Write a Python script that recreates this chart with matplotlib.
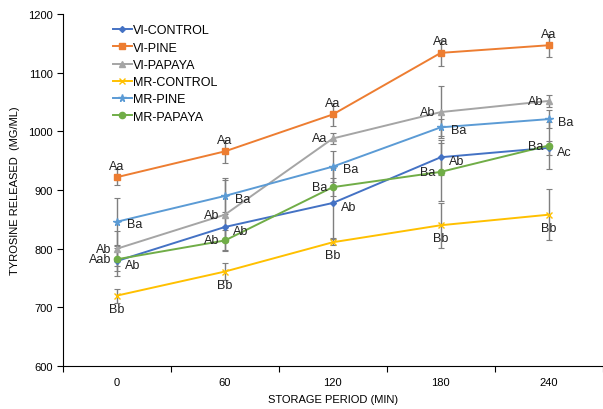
import matplotlib
matplotlib.use("Agg")
import matplotlib.pyplot as plt
import numpy as np

plt.rcParams['font.family'] = ['Liberation Sans', 'DejaVu Sans']

periods = ["0", "60", "120", "180", "240"]
series_names = ["VI-CONTROL", "VI-PINE", "VI-PAPAYA", "MR-CONTROL", "MR-PINE", "MR-PAPAYA"]

vi_control = [779, 837, 878, 956, 972]
vi_pine = [922, 966, 1029, 1134, 1147]
vi_papaya = [800, 858, 988, 1033, 1052]
mr_control = [720, 761, 811, 840, 858]
mr_pine = [846, 890, 940, 1007, 1021]
mr_papaya = [782, 814, 905, 931, 976]

vi_control_err = [25, 25, 60, 30, 12]
vi_pine_err = [14, 20, 20, 22, 20]
vi_papaya_err = [30, 60, 9, 45, 10]
mr_control_err = [12, 15, 5, 38, 43]
mr_pine_err = [40, 30, 27, 15, 15]
mr_papaya_err = [20, 18, 15, 50, 40]

vi_control_lbl = ["Ab", "Ab", "Ab", "Ab", "Ac"]
vi_pine_lbl = ["Aa", "Aa", "Aa", "Aa", "Aa"]
vi_papaya_lbl = ["Ab", "Ab", "Aa", "Ab", "Ab"]
mr_control_lbl = ["Bb", "Bb", "Bb", "Bb", "Bb"]
mr_pine_lbl = ["Ba", "Ba", "Ba", "Ba", "Ba"]
mr_papaya_lbl = ["Aab", "Ab", "Ba", "Ba", "Ba"]

values = [vi_control, vi_pine, vi_papaya, mr_control, mr_pine, mr_papaya]
errors = [vi_control_err, vi_pine_err, vi_papaya_err, mr_control_err, mr_pine_err, mr_papaya_err]
labels = [vi_control_lbl, vi_pine_lbl, vi_papaya_lbl, mr_control_lbl, mr_pine_lbl, mr_papaya_lbl]

colors = ["#4472C4", "#ED7D31", "#A5A5A5", "#FFC000", "#5B9BD5", "#70AD47"]
markers = ["D", "s", "^", "x", "*", "o"]
msizes = [3, 4.5, 4.5, 4, 5.5, 4.5]
# label offsets (points) and alignment per series
offsets = [((6, -3), "left", "center"),
           ((0, 4), "center", "bottom"),
           ((-4, 0), "right", "center"),
           ((0, -5), "center", "top"),
           ((7, -2), "left", "center"),
           ((-4, 0), "right", "center")]

fig = plt.figure(figsize=(6.03, 4.10), dpi=100)
ax = fig.add_axes([0.1045, 0.105, 0.895, 0.858])

x = np.arange(len(periods))
for vals, err in zip(values, errors):
    ax.errorbar(x, vals, yerr=err, fmt="none", ecolor="#7F7F7F", elinewidth=1,
                capsize=2, capthick=0.8, zorder=2)

for name, vals, c, m, ms in zip(series_names, values, colors, markers, msizes):
    ax.plot(x, vals, color=c, marker=m, markersize=ms, linewidth=1.4,
            markeredgewidth=1.0, label=name, zorder=3)

for vals, lbls, (off, ha, va) in zip(values, labels, offsets):
    for xi, v, t in zip(x, vals, lbls):
        ax.annotate(t, (xi, v), xytext=off, textcoords="offset points",
                    ha=ha, va=va, fontsize=9, color="#222222", zorder=4)

ax.set_xlim(-0.5, 4.5)
ax.set_ylim(600, 1200)
ax.set_yticks(np.arange(600, 1201, 100))
ax.set_xticks(x)
ax.set_xticklabels(periods)
ax.set_xticks(np.arange(-0.5, 4.6, 1), minor=True)
ax.tick_params(axis="x", which="major", length=0, pad=8, labelsize=8)
ax.tick_params(axis="x", which="minor", length=4, width=0.8)
ax.tick_params(axis="y", length=4, width=0.8, labelsize=8)
ax.spines["top"].set_visible(False)
ax.spines["right"].set_visible(False)
ax.set_xlabel("STORAGE PERIOD (MIN)", fontsize=8, labelpad=5)
ax.set_ylabel("TYROSINE RELEASED  (MG/ML)", fontsize=8, labelpad=6)

ax.legend(loc="upper left", bbox_to_anchor=(0.083, 0.985), frameon=False, fontsize=9,
          handlelength=1.5, handletextpad=0.15, labelspacing=0.42, borderaxespad=0)

fig.savefig("out.png", dpi=100)
